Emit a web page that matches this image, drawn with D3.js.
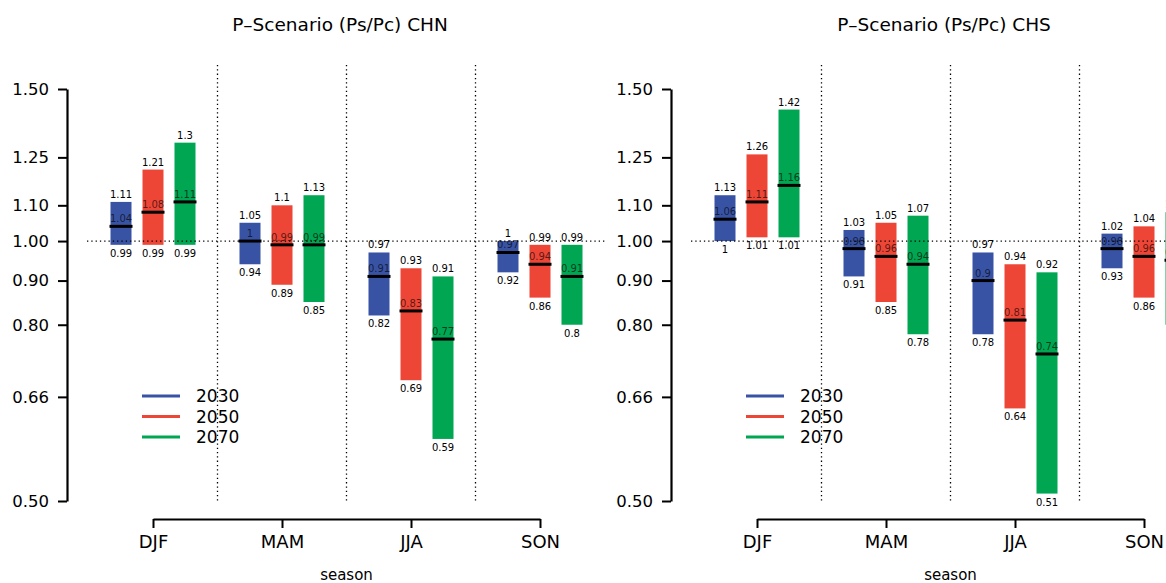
<!DOCTYPE html>
<html>
<head>
<meta charset="utf-8">
<script src="https://cdn.jsdelivr.net/npm/d3@7"></script>
<style>
  body { margin: 0; background: #fff; }
  svg { display: block; font-family: "DejaVu Sans", sans-serif; }
</style>
</head>
<body>
<svg id="chart"></svg>
<script>
const chartWidth = 1166;
const chartHeight = 583;

const seasons = ["DJF", "MAM", "JJA", "SON"];
const years = ["2030", "2050", "2070"];
const yearColors = ["#3953a4", "#ee4636", "#00a651"];
const yTicks = [0.5, 0.66, 0.8, 0.9, 1, 1.1, 1.25, 1.5];

// [year][season] : upper bound, median, lower bound
const chnHigh = [[1.11, 1.05, 0.97, 1], [1.21, 1.1, 0.93, 0.99], [1.3, 1.13, 0.91, 0.99]];
const chnMid = [[1.04, 1, 0.91, 0.97], [1.08, 0.99, 0.83, 0.94], [1.11, 0.99, 0.77, 0.91]];
const chnLow = [[0.99, 0.94, 0.82, 0.92], [0.99, 0.89, 0.69, 0.86], [0.99, 0.85, 0.59, 0.8]];

const chsHigh = [[1.13, 1.03, 0.97, 1.02], [1.26, 1.05, 0.94, 1.04], [1.42, 1.07, 0.92, 1.08]];
const chsMid = [[1.06, 0.98, 0.9, 0.98], [1.11, 0.96, 0.81, 0.96], [1.16, 0.94, 0.74, 0.95]];
const chsLow = [[1, 0.91, 0.78, 0.93], [1.01, 0.85, 0.64, 0.86], [1.01, 0.78, 0.51, 0.8]];

const svg = d3.select("#chart")
  .attr("width", chartWidth)
  .attr("height", chartHeight);

// log scale on the ratio axis
const y = d3.scaleLog()
  .domain([0.5, 1.5])
  .range([501, 89]);

const x = d3.scalePoint()
  .domain(seasons)
  .range([153, 540]);

const xYear = d3.scalePoint()
  .domain(years)
  .range([-32, 32]);

const barWidth = 21;

function drawPanel(offsetX, title, high, mid, low) {
  const g = svg.append("g")
    .attr("transform", `translate(${offsetX},0)`);

  // title
  g.append("text")
    .attr("x", 340)
    .attr("y", 31)
    .attr("text-anchor", "middle")
    .style("font-size", "18.5px")
    .text(title);

  // y axis
  const yAxis = g.append("g")
    .attr("transform", "translate(67,0)")
    .call(d3.axisLeft(y)
      .tickValues(yTicks)
      .tickFormat(d3.format(".2f"))
      .tickSize(9)
      .tickSizeOuter(0));
  yAxis.select(".domain").attr("stroke-width", 2.2);
  yAxis.selectAll(".tick line").attr("stroke-width", 2);
  yAxis.selectAll(".tick text")
    .attr("x", -18)
    .style("font-family", "DejaVu Sans, sans-serif")
    .style("font-size", "16.5px")
    .attr("fill", "#000");

  // x axis
  const xAxis = g.append("g")
    .attr("transform", "translate(0,519)")
    .call(d3.axisBottom(x)
      .tickSize(9)
      .tickSizeOuter(0));
  xAxis.select(".domain").attr("stroke-width", 2.2);
  xAxis.selectAll(".tick line").attr("stroke-width", 2);
  xAxis.selectAll(".tick text")
    .attr("y", 16)
    .style("font-family", "DejaVu Sans, sans-serif")
    .style("font-size", "18px")
    .attr("fill", "#000");

  g.append("text")
    .attr("x", (x.range()[0] + x.range()[1]) / 2)
    .attr("y", 580)
    .attr("text-anchor", "middle")
    .style("font-size", "15px")
    .text("season");

  // flatten into one record per bar
  const rows = [];
  years.forEach((yr, i) => {
    seasons.forEach((s, j) => {
      rows.push({ year: yr, yi: i, season: s, hi: high[i][j], md: mid[i][j], lo: low[i][j] });
    });
  });

  const bars = g.selectAll("g.bar")
    .data(rows)
    .enter()
    .append("g")
    .attr("class", "bar")
    .attr("transform", d => `translate(${x(d.season) + xYear(d.year)},0)`);

  bars.append("rect")
    .attr("x", -barWidth / 2)
    .attr("width", barWidth)
    .attr("y", d => y(d.hi))
    .attr("height", d => y(d.lo) - y(d.hi))
    .attr("fill", d => yearColors[d.yi]);

  bars.append("line")
    .attr("x1", -barWidth / 2 - 1)
    .attr("x2", barWidth / 2 + 1)
    .attr("y1", d => y(d.md))
    .attr("y2", d => y(d.md))
    .attr("stroke", "#000")
    .attr("stroke-width", 3);

  bars.append("text")
    .attr("y", d => y(d.hi) - 4)
    .attr("text-anchor", "middle")
    .style("font-size", "10px")
    .text(d => String(d.hi));

  bars.append("text")
    .attr("y", d => y(d.md) - 4)
    .attr("text-anchor", "middle")
    .style("font-size", "10px")
    .attr("fill", "#000")
    .attr("fill-opacity", 0.65)
    .text(d => String(d.md));

  bars.append("text")
    .attr("y", d => y(d.lo) + 12)
    .attr("text-anchor", "middle")
    .style("font-size", "10px")
    .text(d => String(d.lo));

  // dotted reference lines
  g.append("line")
    .attr("x1", 87)
    .attr("x2", 605)
    .attr("y1", y(1))
    .attr("y2", y(1))
    .attr("stroke", "#000")
    .attr("stroke-width", 1.3)
    .attr("stroke-dasharray", "1.3,3");

  const seps = seasons.slice(1).map((s, i) => (x(seasons[i]) + x(s)) / 2);
  g.selectAll("line.sep")
    .data(seps)
    .enter()
    .append("line")
    .attr("class", "sep")
    .attr("x1", d => d)
    .attr("x2", d => d)
    .attr("y1", 65)
    .attr("y2", y(0.5))
    .attr("stroke", "#000")
    .attr("stroke-width", 1.3)
    .attr("stroke-dasharray", "1.3,3");

  // legend
  const legend = g.selectAll("g.legend")
    .data(years)
    .enter()
    .append("g")
    .attr("class", "legend")
    .attr("transform", (d, i) => `translate(142,${396 + i * 20.5})`);

  legend.append("line")
    .attr("x1", 0)
    .attr("x2", 38)
    .attr("stroke", (d, i) => yearColors[i])
    .attr("stroke-width", 3);

  legend.append("text")
    .attr("x", 54)
    .attr("y", 6)
    .style("font-size", "17px")
    .text(d => d);
}

drawPanel(0, "P\u2013Scenario (Ps/Pc) CHN", chnHigh, chnMid, chnLow);
drawPanel(604, "P\u2013Scenario (Ps/Pc) CHS", chsHigh, chsMid, chsLow);
</script>
</body>
</html>
